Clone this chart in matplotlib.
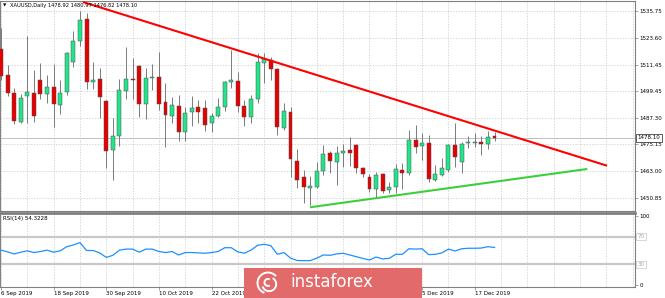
import numpy as np
import pandas as pd
import matplotlib
matplotlib.use("Agg")
import matplotlib.pyplot as plt
from matplotlib.patches import Rectangle, Arc

# ---- data -----------------------------------------------------------------
symbol_title = "XAUUSD,Daily 1478.92 1480.97 1476.82 1478.10"
start_date = "2019-09-06"

opens = [1518.5, 1506.8, 1498.5, 1485.4, 1497.3, 1498.7, 1504.3, 1498.2, 1501.2, 1492.9,
         1499.0, 1512.6, 1522.3, 1532.0, 1503.7, 1504.7, 1495.0, 1472.6, 1479.0, 1499.3,
         1504.7, 1510.8, 1493.4, 1505.5, 1505.7, 1494.3, 1488.2, 1492.6, 1481.0, 1490.0,
         1492.3, 1491.6, 1485.0, 1488.2, 1492.0, 1503.4, 1504.1, 1492.6, 1487.8, 1495.9,
         1512.3, 1513.5, 1509.4, 1482.8, 1489.8, 1467.7, 1460.2, 1455.5, 1456.0, 1463.0,
         1471.1, 1467.1, 1471.1, 1472.6, 1474.9, 1464.3, 1460.2, 1454.8, 1461.7, 1454.5,
         1455.7, 1463.6, 1462.1, 1477.2, 1474.5, 1475.7, 1459.0, 1461.3, 1463.6, 1474.9,
         1467.3, 1475.7, 1475.7, 1476.3, 1475.4, 1478.92]
highs = [1528.0, 1511.1, 1500.8, 1498.1, 1524.4, 1509.0, 1512.0, 1506.8, 1511.6, 1504.4,
         1517.3, 1526.7, 1535.8, 1534.7, 1512.5, 1509.7, 1495.3, 1487.3, 1505.0, 1519.5,
         1514.5, 1511.2, 1509.7, 1511.7, 1517.0, 1503.2, 1496.6, 1497.6, 1492.3, 1497.2,
         1495.3, 1495.3, 1489.3, 1496.1, 1504.0, 1518.0, 1508.2, 1495.3, 1497.6, 1516.5,
         1516.5, 1514.7, 1509.8, 1494.1, 1492.3, 1473.0, 1463.6, 1460.8, 1467.1, 1474.9,
         1472.1, 1474.6, 1475.4, 1478.7, 1475.4, 1465.1, 1461.7, 1462.8, 1462.3, 1458.3,
         1466.3, 1466.6, 1481.7, 1483.9, 1480.2, 1479.5, 1465.8, 1468.9, 1475.4, 1484.8,
         1476.4, 1479.0, 1480.5, 1479.0, 1481.4, 1480.97]
lows = [1504.4, 1497.2, 1484.4, 1484.7, 1485.0, 1485.5, 1495.7, 1494.1, 1483.2, 1488.9,
        1497.8, 1510.5, 1519.9, 1500.2, 1500.3, 1487.0, 1464.3, 1459.0, 1474.6, 1495.7,
        1495.7, 1487.8, 1486.7, 1499.9, 1490.8, 1474.1, 1484.8, 1476.9, 1476.9, 1483.5,
        1485.0, 1481.4, 1481.0, 1487.5, 1490.5, 1500.7, 1490.0, 1483.5, 1485.0, 1493.8,
        1503.2, 1504.4, 1479.5, 1481.7, 1460.5, 1455.3, 1448.4, 1447.7, 1455.3, 1461.4,
        1462.1, 1456.6, 1465.1, 1465.4, 1462.3, 1460.5, 1453.7, 1450.7, 1453.0, 1453.0,
        1453.0, 1454.8, 1461.3, 1471.4, 1468.1, 1458.3, 1458.7, 1460.8, 1462.8, 1465.1,
        1462.1, 1473.4, 1474.1, 1470.4, 1473.0, 1476.82]
closes = [1506.2, 1498.4, 1485.9, 1496.4, 1499.0, 1488.1, 1498.2, 1501.2, 1493.4, 1498.7,
          1516.5, 1522.1, 1531.7, 1503.4, 1504.4, 1496.6, 1472.2, 1479.0, 1499.9, 1504.9,
          1504.3, 1493.4, 1505.5, 1505.9, 1493.4, 1488.5, 1492.9, 1481.0, 1489.6, 1491.7,
          1490.0, 1484.0, 1487.9, 1492.0, 1503.7, 1504.4, 1492.6, 1487.8, 1495.7, 1512.7,
          1513.8, 1509.6, 1483.2, 1490.4, 1468.6, 1459.0, 1456.0, 1456.3, 1463.1, 1470.8,
          1467.5, 1471.1, 1472.3, 1471.1, 1464.3, 1461.7, 1454.9, 1461.3, 1454.0, 1455.7,
          1463.9, 1462.3, 1477.2, 1474.1, 1475.7, 1459.5, 1461.7, 1464.3, 1474.9, 1469.6,
          1475.4, 1476.1, 1476.1, 1475.4, 1478.7, 1478.10]
rsi = [50.5, 48, 45, 47.5, 49.5, 47, 48.5, 50.5, 47.5, 49.5,
       55.5, 58, 61.5, 50, 50, 46.5, 40, 43, 50.5, 52,
       52, 47.5, 52, 52, 48.5, 47, 48.5, 43.5, 47, 47,
       46.5, 46, 47, 48.5, 54, 54, 48, 46, 50.5, 57.5,
       59, 57, 44.5, 47, 39, 35.5, 35.3, 35.3, 39, 43.5,
       43, 45, 46, 43.5, 41, 38.5, 36.2, 40.5, 37.8, 38.6,
       44.5, 44.4, 52.5, 52, 52.5, 44, 44.5, 46.5, 52, 49.3,
       52.5, 53.2, 53.2, 53.5, 55.5, 54.3228]
rsi_label = "RSI(14) 54.3228"

price_ticks = [1535.75, 1523.60, 1511.45, 1499.45, 1487.30, 1475.15, 1463.00, 1450.85]
# trend lines: (bar index, price) end points
res_line = ([12.46, 92.1], [1539.83, 1465.5])
sup_line = ([46.96, 89.1], [1446.63, 1464.02])

# ---- style ----------------------------------------------------------------
plt.rcParams.update({"font.family": "DejaVu Sans", "font.size": 4.0})
BULL = "#22e58a"
BEAR = "#e60000"
FRAME = "#808080"
GRID = "#c8c8c8"
W, H = 665, 298


def rect(x0, y0, x1, y1):
    # pixel box (origin top-left) -> figure fraction
    return [x0 / W, 1 - y1 / H, (x1 - x0) / W, (y1 - y0) / H]


dates = pd.bdate_range(start_date, periods=len(closes))
x = np.arange(len(closes))
o = np.array(opens); c = np.array(closes)
hi = np.array(highs); lo = np.array(lows)

fig = plt.figure(figsize=(W / 100, H / 100), dpi=100, facecolor="white")
ax = fig.add_axes(rect(0, 1, 635, 211))
axr = fig.add_axes(rect(0, 213, 635, 287), sharex=ax)

# candles
up = c >= o
ax.vlines(x, lo, hi, color="#7a7a7a", lw=0.7, zorder=2)
body_lo = np.minimum(o, c)
body_h = np.maximum(np.abs(c - o), 0.35)
ax.bar(x, body_h, bottom=body_lo, width=0.6,
       color=np.where(up, BULL, BEAR), edgecolor="#505050", linewidth=0.35, zorder=3)

# trend lines and bid line
ax.plot(*res_line, color="#ff0000", lw=1.5, zorder=4, solid_capstyle="butt")
ax.plot(*sup_line, color="#3bcf3b", lw=1.5, zorder=4, solid_capstyle="butt")
ax.axhline(closes[-1], color="#c0c0c0", lw=0.7, zorder=1)

ax.set_xlim(-0.15, 96.35)
ax.set_ylim(1444.94, 1540.29)
ax.set_yticks(price_ticks)
ax.set_yticklabels([f"{p:.2f}" for p in price_ticks])
ax.yaxis.tick_right()
ax.annotate(f"{closes[-1]:.2f}", xy=(1.004, closes[-1]), xycoords=("axes fraction", "data"),
            ha="left", va="center", fontsize=4.0, annotation_clip=False,
            bbox=dict(boxstyle="square,pad=0.25", fc="white", ec="#202020", lw=0.5))

# RSI panel
axr.plot(x, rsi, color="#1e90ff", lw=0.9, zorder=3)
for lvl in (70, 30):
    axr.axhline(lvl, color="#c8c8c8", lw=1.6, zorder=1)
    axr.annotate(str(lvl), xy=(1.004, lvl), xycoords=("axes fraction", "data"),
                 ha="left", va="center", fontsize=4.0, color="#a8a8a8",
                 annotation_clip=False,
                 bbox=dict(boxstyle="square,pad=0.2", fc="white", ec="#c8c8c8", lw=0.5))
axr.set_ylim(-2.9, 104.3)
axr.set_yticks([0, 100])
axr.yaxis.tick_right()
axr.text(0.005, 0.92, rsi_label, transform=axr.transAxes, va="center", ha="left")

# x ticks: labels every 8 bars, grid every 4 bars
major = x[::8]
axr.set_xticks(major)
axr.set_xticklabels([f"{d.day} {d:%b %Y}" for d in dates[::8]])
for lab in axr.get_xticklabels():
    lab.set_ha("left")
axr.set_xticks(np.arange(0, 97, 4), minor=True)
ax.tick_params(axis="x", which="both", length=0, labelbottom=False)
axr.tick_params(axis="x", which="major", length=2, pad=1, width=0.5, color=FRAME)
axr.tick_params(axis="x", which="minor", length=0)

for a in (ax, axr):
    a.tick_params(axis="y", length=2, pad=1, width=0.5, color=FRAME)
    a.grid(True, which="both", axis="x", color=GRID, lw=0.5, ls=(0, (2, 2)))
    for s in a.spines.values():
        s.set_color(FRAME)
        s.set_linewidth(0.8)
ax.grid(True, axis="y", color=GRID, lw=0.5, ls=(0, (2, 2)))
ax.spines["bottom"].set_linewidth(0.8)
axr.spines["top"].set_linewidth(2.0)
ax.set_axisbelow(True)
axr.set_axisbelow(True)

# header
fig.text(3 / W, 1 - 5.5 / H, "\u25bc", fontsize=3.2, va="center", ha="left")
fig.text(10 / W, 1 - 5.5 / H, symbol_title, va="center", ha="left", fontsize=3.7)

# watermark
fig.patches.append(Rectangle((244 / W, 0), 178 / W, 30 / H, transform=fig.transFigure,
                             facecolor="#e36a6a", edgecolor="none", zorder=10))
fig.text(290 / W, 1 - 287.3 / H, "instaforex", color="white", fontsize=12,
         ha="left", va="baseline", zorder=11)
logo = fig.add_axes(rect(251, 269, 285, 297), zorder=12)
logo.set_xlim(-1.2, 1.2); logo.set_ylim(-1.2, 1.2); logo.set_aspect("equal")
logo.axis("off")
for (cx, cy, r, t1, t2) in [(0, 0, 1.8, 40, 250), (0.1, -0.1, 1.2, 200, 420), (0, 0.05, 0.6, 60, 300)]:
    logo.add_patch(Arc((cx, cy), r, r, theta1=t1, theta2=t2, color="white", lw=1.4))

fig.savefig("out.png", dpi=100, facecolor="white")
